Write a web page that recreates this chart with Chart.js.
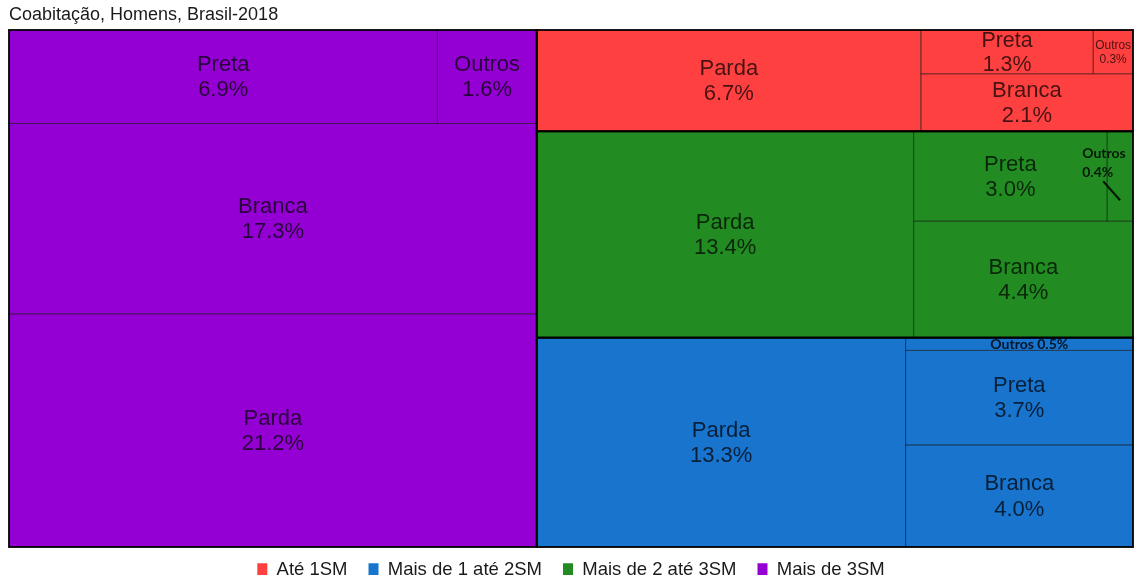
<!DOCTYPE html>
<html><head><meta charset="utf-8">
<script src="https://cdn.jsdelivr.net/npm/chart.js@4.4.1/dist/chart.umd.min.js"></script>
<style>html,body{margin:0;padding:0;background:#fff;} canvas{display:block;}</style>
</head><body>
<canvas id="c" width="1135" height="582"></canvas>
<script>
// ---- data ----
const chartTitle = 'Coabitação, Homens, Brasil-2018';
const groups = ['Até 1SM', 'Mais de 1 até 2SM', 'Mais de 2 até 3SM', 'Mais de 3SM'];
const races = ['Parda', 'Branca', 'Preta', 'Outros'];
const ate1SM = [6.7, 2.1, 1.3, 0.3];
const de1a2SM = [13.3, 4.0, 3.7, 0.5];
const de2a3SM = [13.4, 4.4, 3.0, 0.4];
const mais3SM = [21.2, 17.3, 6.9, 1.6];
const groupValues = [ate1SM, de1a2SM, de2a3SM, mais3SM];
const groupColors = ['#FF4040', '#1874CD', '#228B22', '#9400D3'];

// ---- squarified layout in unit space (y up) ----
function worst(row, side) {
  const sum = row.reduce((a, it) => a + it.area, 0);
  const t = sum / side;
  let m = 0;
  for (const it of row) { const l = it.area / t; m = Math.max(m, l / t, t / l); }
  return m;
}
function squarify(items, rect) {
  const out = [];
  let rest = items.slice().sort((a, b) => b.area - a.area);
  let r = Object.assign({}, rect);
  while (rest.length) {
    const wide = r.w >= r.h;
    const side = wide ? r.h : r.w;
    let row = [rest[0]];
    let i = 1;
    while (i < rest.length) {
      const cand = row.concat([rest[i]]);
      if (worst(cand, side) <= worst(row, side)) { row = cand; i++; } else break;
    }
    rest = rest.slice(row.length);
    const sum = row.reduce((a, it) => a + it.area, 0);
    const thick = sum / side;
    let off = 0;
    for (const it of row) {
      const len = it.area / thick;
      out.push(Object.assign({}, it, wide ? {x: r.x, y: r.y + off, w: thick, h: len}
                                          : {x: r.x + off, y: r.y, w: len, h: thick}));
      off += len;
    }
    r = wide ? {x: r.x + thick, y: r.y, w: r.w - thick, h: r.h}
             : {x: r.x, y: r.y + thick, w: r.w, h: r.h - thick};
  }
  return out;
}

const FONT = '"Liberation Sans", Arial, sans-serif';
const LEGEND_HEIGHT = 35;
const LEGEND_SHIFT = 7;

const treemapPlugin = {
  id: 'treemap',
  afterInit(chart) {
    const lg = chart.legend;
    if (lg) {
      const fit = lg.fit;
      lg.fit = function () { fit.call(this); this.height = LEGEND_HEIGHT; };
    }
  },
  afterLayout(chart) {
    const lg = chart.legend;
    if (lg) { lg.top -= LEGEND_SHIFT; lg.bottom -= LEGEND_SHIFT; }
  },
  beforeDatasetsDraw(chart) {
    const ctx = chart.ctx;
    const xs = chart.scales.x, ys = chart.scales.y;
    const total = groupValues.flat().reduce((a, b) => a + b, 0);
    const gItems = groups.map((g, gi) => ({gi, area: groupValues[gi].reduce((a, b) => a + b, 0) / total}));
    const gRects = squarify(gItems, {x: 0, y: 0, w: 1, h: 1});
    const cells = [];
    gRects.forEach(g => {
      const items = races.map((r, ri) => ({gi: g.gi, ri, value: groupValues[g.gi][ri], area: groupValues[g.gi][ri] / total}));
      cells.push(...squarify(items, g));
    });
    const toPx = c => {
      const l = xs.getPixelForValue(c.x), r = xs.getPixelForValue(c.x + c.w);
      const t = ys.getPixelForValue(c.y + c.h), b = ys.getPixelForValue(c.y);
      return {l, r, t, b, w: r - l, h: b - t};
    };
    ctx.save();
    // fills
    cells.forEach(c => {
      const p = toPx(c);
      ctx.fillStyle = groupColors[c.gi];
      ctx.fillRect(p.l, p.t, p.w, p.h);
    });
    // inner borders
    ctx.strokeStyle = 'rgba(0,0,0,0.38)';
    ctx.lineWidth = 1;
    cells.forEach(c => {
      const p = toPx(c);
      ctx.strokeRect(p.l, p.t, p.w, p.h);
    });
    // group borders
    ctx.strokeStyle = 'rgba(0,0,0,0.88)';
    ctx.lineWidth = 2;
    gRects.forEach(g => {
      const p = toPx(g);
      ctx.strokeRect(p.l, p.t, p.w, p.h);
    });
    // labels
    const BASE = 22, LH = 1.14, MIN = 9;
    cells.forEach(c => {
      const p = toPx(c);
      const lines = [races[c.ri], c.value.toFixed(1) + '%'];
      ctx.font = BASE + 'px ' + FONT;
      const tw = Math.max(...lines.map(s => ctx.measureText(s).width));
      const blockH = BASE * 1.95;
      const size = BASE * Math.min(1, (p.w - 4) / tw, (p.h - 2) / blockH);
      const cx = p.l + p.w / 2, cy = p.t + p.h / 2;
      if (size >= MIN) {
        ctx.font = size + 'px ' + FONT;
        ctx.fillStyle = 'rgba(0,0,0,0.72)';
        ctx.textAlign = 'center';
        ctx.textBaseline = 'middle';
        const gap = size * LH;
        ctx.fillText(lines[0], cx, cy + 1 - gap / 2);
        ctx.fillText(lines[1], cx, cy + 1 + gap / 2);
      } else {
        // small cells: bold callout
        ctx.font = 'bold 14px Lato, "Open Sans", sans-serif';
        ctx.fillStyle = 'rgba(0,0,0,0.82)';
        if (p.h < 20) {
          ctx.textAlign = 'center';
          ctx.textBaseline = 'middle';
          ctx.fillText(lines[0] + ' ' + lines[1], cx + 10, cy);
        } else {
          ctx.textAlign = 'left';
          ctx.textBaseline = 'alphabetic';
          ctx.fillText(lines[0], p.l - 25, p.t + 27);
          ctx.fillText(lines[1], p.l - 25, p.t + 46);
          ctx.strokeStyle = 'rgba(0,0,0,0.85)';
          ctx.lineWidth = 2;
          ctx.beginPath();
          ctx.moveTo(p.l - 4, p.t + 50);
          ctx.lineTo(cx, p.t + 69);
          ctx.stroke();
        }
      }
    });
    ctx.restore();
  }
};

new Chart(document.getElementById('c'), {
  type: 'scatter',
  data: {
    datasets: groups.map((g, i) => ({
      label: g, data: [], backgroundColor: groupColors[i], borderColor: groupColors[i], borderWidth: 0
    }))
  },
  options: {
    responsive: false,
    animation: false,
    devicePixelRatio: 1,
    layout: {padding: {left: 9, right: 2, top: 0, bottom: 0}},
    scales: {
      x: {type: 'linear', min: 0, max: 1, display: false},
      y: {type: 'linear', min: 0, max: 1, display: false}
    },
    plugins: {
      title: {
        display: true, text: chartTitle, align: 'start', color: '#1a1a1a',
        font: {size: 18, weight: 'normal', family: FONT}, padding: {top: 4, bottom: 4.4}
      },
      legend: {
        position: 'bottom',
        labels: {boxWidth: 10, boxHeight: 14, padding: 21, color: '#1a1a1a', font: {size: 18.5, family: FONT}}
      },
      tooltip: {enabled: false}
    }
  },
  plugins: [treemapPlugin]
});
</script>
</body></html>
